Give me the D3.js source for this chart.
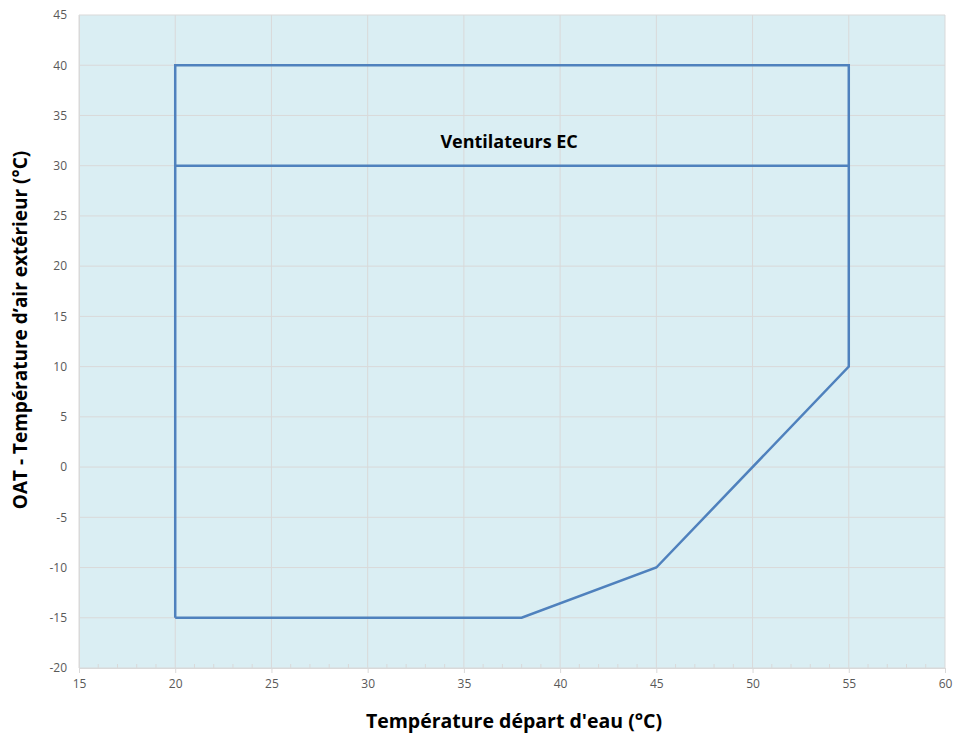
<!DOCTYPE html>
<html>
<head>
<meta charset="utf-8">
<script src="https://cdn.jsdelivr.net/npm/d3@7"></script>
<style>
  body { margin: 0; background: #fff; }
  svg { font-family: "Open Sans", "Noto Sans", sans-serif; }
</style>
</head>
<body>
<svg width="955" height="738"></svg>
<script>
// envelope of operation
const envelopeX = [20, 20, 55, 55, 45, 38, 20];
const envelopeY = [-15, 40, 40, 10, -10, -15, -15];
const splitX = [20, 55];
const splitY = [30, 30];
const xTicks = [15, 20, 25, 30, 35, 40, 45, 50, 55, 60];
const yTicks = [-20, -15, -10, -5, 0, 5, 10, 15, 20, 25, 30, 35, 40, 45];
const zoneLabel = { text: "Ventilateurs EC", x: 37.35, y: 32.5 };

const svg = d3.select("svg");
const m = { left: 79, right: 10, top: 15, bottom: 70 };
const W = 955, H = 738;

const x = d3.scaleLinear().domain([15, 60]).range([m.left, W - m.right]);
const y = d3.scaleLinear().domain([-20, 45]).range([H - m.bottom, m.top]);

svg.append("rect")
  .attr("x", x(15)).attr("y", y(45))
  .attr("width", x(60) - x(15)).attr("height", y(-20) - y(45))
  .attr("fill", "#DAEEF3");

// grid
svg.append("g").selectAll("line").data(xTicks).enter().append("line")
  .attr("x1", d => x(d)).attr("x2", d => x(d))
  .attr("y1", y(-20)).attr("y2", y(45))
  .attr("stroke", "#D9D9D9").attr("stroke-width", 1);
svg.append("g").selectAll("line").data(yTicks).enter().append("line")
  .attr("x1", x(15)).attr("x2", x(60))
  .attr("y1", d => y(d)).attr("y2", d => y(d))
  .attr("stroke", "#D9D9D9").attr("stroke-width", 1);

// minor ticks on x axis, pointing up
svg.append("g").selectAll("line").data(d3.range(15, 61).filter(d => d % 5 != 0)).enter().append("line")
  .attr("x1", d => x(d)).attr("x2", d => x(d))
  .attr("y1", y(-20)).attr("y2", y(-20) - 4)
  .attr("stroke", "#D9D9D9");

// axes
const fmt = d => String(d);
const xAxis = svg.append("g").attr("transform", `translate(0,${y(-20)})`)
  .call(d3.axisBottom(x).tickValues(xTicks).tickFormat(fmt).tickSize(5).tickPadding(6));
const yAxis = svg.append("g").attr("transform", `translate(${x(15)},0)`)
  .call(d3.axisLeft(y).tickValues(yTicks).tickFormat(fmt).tickSize(0).tickPadding(12));
[xAxis, yAxis].forEach(a => {
  a.select(".domain").attr("stroke", "#D9D9D9");
  a.selectAll(".tick line").attr("stroke", "#D9D9D9");
  a.selectAll(".tick text").attr("fill", "#595959").style("font-size", "12px")
    .style("font-family", "'Open Sans', sans-serif");
});

const line = d3.line().x(d => x(d[0])).y(d => y(d[1]));
svg.append("path")
  .attr("d", line(d3.zip(envelopeX, envelopeY)))
  .attr("fill", "none").attr("stroke", "#4F81BD").attr("stroke-width", 2.5)
  .attr("stroke-linejoin", "miter");
svg.append("path")
  .attr("d", line(d3.zip(splitX, splitY)))
  .attr("fill", "none").attr("stroke", "#4F81BD").attr("stroke-width", 2.5);

svg.append("text")
  .attr("x", x(zoneLabel.x)).attr("y", y(zoneLabel.y))
  .attr("text-anchor", "middle").attr("dominant-baseline", "central")
  .style("font-size", "18px").style("font-weight", "bold").attr("fill", "#000")
  .text(zoneLabel.text);

svg.append("text")
  .attr("x", 514).attr("y", 728)
  .attr("text-anchor", "middle")
  .style("font-size", "19.5px").style("font-weight", "bold")
  .text("Température départ d'eau (°C)");

svg.append("text")
  .attr("transform", `translate(27,330) rotate(-90)`)
  .attr("text-anchor", "middle")
  .style("font-size", "19px").style("font-weight", "bold")
  .text("OAT - Température d’air extérieur (°C)");
</script>
</body>
</html>
